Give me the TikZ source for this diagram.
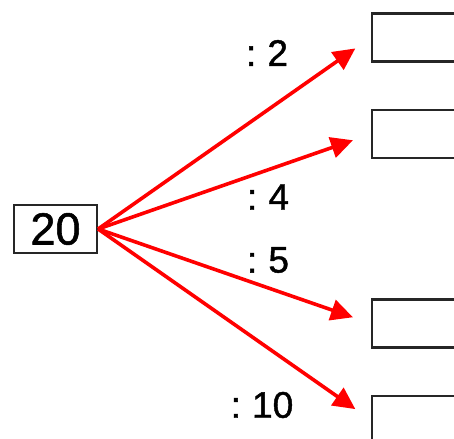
\documentclass[tikz,border=0pt]{standalone}
\usepackage{fontspec}
\setmainfont{Liberation Sans}
\newfontfamily\digitfont[FakeBold=1.2]{Liberation Sans}
\usetikzlibrary{arrows.meta}

\tikzset{
  numbox/.style={draw=black!85,line width=2.2pt,minimum width=83pt,minimum height=48pt,inner sep=0pt,font=\digitfont\fontsize{45}{48}\selectfont},
  ansbox/.style={draw=black!85,line width=2.2pt,minimum width=88pt,minimum height=48pt,inner sep=0pt},
  divlabel/.style={inner sep=0pt,font=\digitfont\fontsize{37}{40}\selectfont},
  divarrow/.style={red,line width=3.6pt,-{Triangle[length=22pt,width=21pt]},shorten >=19pt}
}

\begin{document}
\begin{tikzpicture}[x=1pt,y=-1pt]
  \useasboundingbox (0,0) rectangle (454,438);

  % start number
  \node[numbox] (n20) at (55.5,229) {20};

  % empty answer boxes (right edge cut off)
  \node[ansbox] (b1) at (416,37.5) {};
  \node[ansbox] (b2) at (416,134) {};
  \node[ansbox] (b3) at (416,323.5) {};
  \node[ansbox] (b4) at (416,420) {};

  % arrows
  \draw[divarrow] (n20.east) -- (b1.west);
  \draw[divarrow] (n20.east) -- (b2.west);
  \draw[divarrow] (n20.east) -- (b3.west);
  \draw[divarrow] (n20.east) -- (b4.west);

  % divisors
  \node[divlabel] (d2) at (267,53) {:\hspace{0.3em}2};
  \node[divlabel] (d4) at (268,197) {:\hspace{0.3em}4};
  \node[divlabel] (d5) at (268,260) {:\hspace{0.3em}5};
  \node[divlabel] (d10) at (262,405) {:\hspace{0.3em}10};
\end{tikzpicture}
\end{document}
